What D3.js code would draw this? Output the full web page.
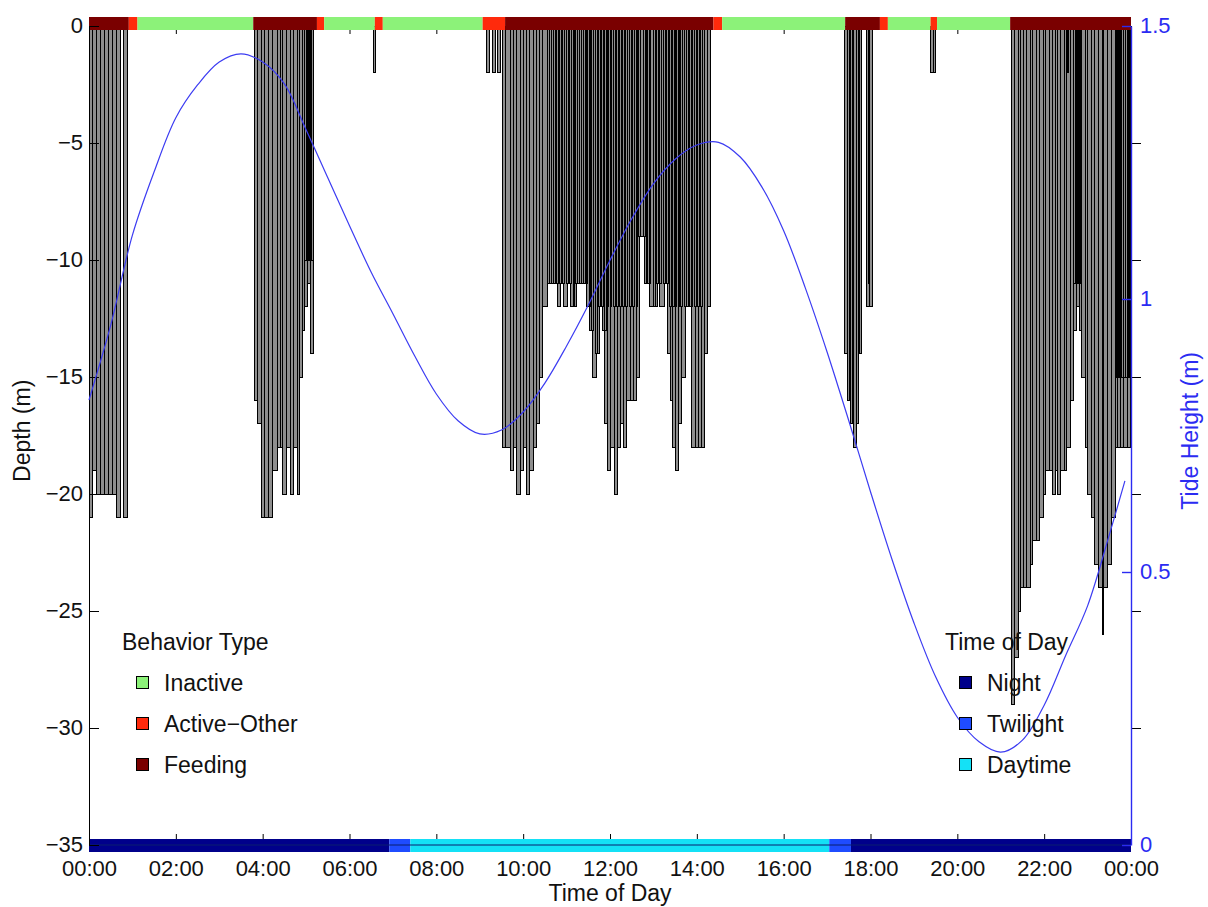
<!DOCTYPE html>
<html>
<head>
<meta charset="utf-8">
<script src="https://cdn.jsdelivr.net/npm/d3@7"></script>
<style>
  html, body { margin: 0; padding: 0; background: #fff; }
  svg { display: block; font-family: "Liberation Sans", Arial, Helvetica, sans-serif; }
</style>
</head>
<body>
<svg id="chart" width="1208" height="907"></svg>
<script>
// ---- Dive records: [start (min after midnight), end (min), maximum depth (m)] ----
const bout1 = [[0,5.5,-21],[5.5,11,-19],[11,16.5,-20],[16.5,22,-20],[22,27.5,-20],[27.5,33,-20],
  [33,38.5,-20],[38.5,43,-21],[48,53.5,-21]];
const bout2 = [[229,233.5,-16],[233.5,239,-17],[239,243,-21],[243,247.5,-21],[247.5,254,-21],
  [254,260,-19],[260,264,-18],[264,268,-18],[268,273.5,-20],[273.5,278,-18],[278,282,-20],
  [282,287.5,-18],[287.5,291.5,-20],[291.5,294.5,-15],[294.5,298.5,-13],[298.5,301.5,-12],
  [301.5,305.5,-11],[305.5,310,-14]];
const bout2Short = [[298,300,-10],[300.5,302.5,-10],[303,305,-10],[305.5,307.5,-10],[308,310,-10]];
const bout3 = [[572,576,-18],[576,582,-18],[582,586,-19],[586,591,-18],[591,596,-20],[596,601,-19],
  [601,605,-18],[605,609,-20],[609,614,-19],[614,618,-18],[618,623,-17],[623,627,-15],[627,633,-12],
  [633,637,-11],[637,643,-11],[643,647,-11],[647,651,-12],[651,656,-11],[656,661,-12],[661,665,-11],
  [665,670,-12],[670,674,-12],[674,679,-11],[679,684,-11],[684,688,-11],[688,692,-12],[692,696,-13],
  [696,701,-15],[701,705,-14],[705,709,-12],[709,713,-13],[713,717,-17],[717,721,-19],[721,726,-18],
  [726,730,-20],[730,734,-18],[734,738,-17],[738,743,-18],[743,748,-16],[748,752,-16],[752,757,-16],
  [757,761,-15],[761,767,-9],[767,771,-11],[771,775,-11],[775,781,-12],[781,785,-12],[785,789,-11],
  [789,795,-12],[795,799,-11],[799,803,-14],[803,807,-16],[807,811,-18],[811,815,-19],[815,819,-17],
  [819,824,-15],[824,829,-12],[829,833,-12],[833,838,-18],[838,842,-18],[842,846,-18],[846,850,-18],
  [850,855,-14],[855,859,-12]];
const bout3Short = [[636,638.5,-11],[641.5,644,-11],[646,648.5,-11],[650,652.5,-11],[655,657.5,-11],
  [660,662.5,-11],[664,666.5,-11],[669,671.5,-12],[673,675.5,-11],[678,680.5,-11],[683,685.5,-11],
  [687,689.5,-11],[691,693.5,-12],[695,697.5,-13],[700,702.5,-14],[704,706.5,-12],[708,710.5,-12],
  [712,714.5,-13],[716,718.5,-12],[720,722.5,-12],[725,727.5,-12],[729,731.5,-12],[733,735.5,-12],
  [737,739.5,-12],[742,744.5,-12],[747,749.5,-12],[751,753.5,-12],[756,758.5,-12],[760,762.5,-9],
  [766,768.5,-9],[770,772.5,-11],[774,776.5,-11],[780,782.5,-12],[784,786.5,-11],[788,790.5,-11],
  [794,796.5,-11],[798,800.5,-11],[802,804.5,-12],[806,808.5,-12],[810,812.5,-12],[814,816.5,-12],
  [818,820.5,-12],[823,825.5,-12],[828,830.5,-12],[832,834.5,-12],[837,839.5,-12],[841,843.5,-12],
  [845,847.5,-12]];
const bout4 = [[1044,1048,-14],[1048,1052,-16],[1052,1056,-17],[1056,1060,-18],[1060,1064,-17],
  [1064,1068,-14],[1075,1079,-12],[1079,1083,-12]];
const bout4Short = [[1051,1053,-16],[1055,1057,-17],[1063,1065,-14],[1077,1079,-11]];
const bout5 = [[1275.5,1279.5,-29],[1279.5,1284,-27],[1284,1287,-25],[1287,1291,-24],[1291,1296,-24],
  [1296,1300.5,-24],[1300.5,1304.5,-23],[1304.5,1309,-22],[1309,1314,-22],[1314,1318.5,-21],
  [1318.5,1322.5,-20],[1322.5,1327,-19],[1327,1331,-19],[1331,1335,-20],[1335,1339,-19],[1339,1343,-20],
  [1343,1347.5,-19],[1347.5,1351.5,-19],[1351.5,1356,-18],[1356,1360,-16],[1360,1365,-13],
  [1365,1369.5,-12],[1369.5,1372,-13],[1372,1376.5,-15],[1376.5,1380.5,-18],[1380.5,1386,-20],
  [1386,1390,-21],[1390,1394.5,-23],[1394.5,1400,-24],[1400,1402.5,-26],[1402.5,1408,-24],
  [1408,1412.5,-23],[1412.5,1418,-21],[1418,1422,-18],[1422,1426,-18],[1426,1430,-18],
  [1430,1434.5,-18],[1434.5,1439,-18]];
const bout5Short = [[1352,1354,-2],[1361,1363,-11],[1364,1366,-11],[1367,1369,-11],[1370,1372,-11],
  [1418,1420,-15],[1421,1423,-15],[1424,1426,-15],[1427,1429,-15],[1430,1432,-15],[1433,1435,-15],
  [1436,1438,-15]];
const surfaceDives = [[393,396,-2],[550,553,-2],[558,561.5,-2],[565,568.5,-2],[1163,1166.5,-2],[1167,1170.5,-2]];

// ---- Behaviour states (minutes) ----
const behaviorStart = [0, 55, 67, 227, 315, 325, 395, 406, 544, 575, 863, 875, 1045, 1093, 1104, 1163, 1172, 1273];
const behaviorEnd   = [55, 67, 227, 315, 325, 395, 406, 544, 575, 863, 875, 1045, 1093, 1104, 1163, 1172, 1273, 1440];
const behaviorState = ["Feeding","Active−Other","Inactive","Feeding","Active−Other","Inactive","Active−Other",
  "Inactive","Active−Other","Feeding","Active−Other","Inactive","Feeding","Active−Other","Inactive",
  "Active−Other","Inactive","Feeding"];
const behaviorNames = ["Inactive", "Active−Other", "Feeding"];
const behaviorColors = ["#8cf279", "#ff2a0c", "#7a0000"];

// ---- Light periods (minutes) ----
const lightStart = [0, 415, 444, 1023, 1053];
const lightEnd   = [415, 444, 1023, 1053, 1440];
const lightState = ["Night", "Twilight", "Daytime", "Twilight", "Night"];
const lightNames = ["Night", "Twilight", "Daytime"];
const lightColors = ["#00008b", "#1f4cff", "#14e1f6"];

// ---- Tide height (hours, metres) ----
const tideHour = [0,0.5,1,1.5,2,2.5,3,3.5,4,4.5,5,5.5,6,6.5,7,7.5,8,8.5,9,9.5,10,10.5,11,11.5,
  12,12.5,13,13.5,14,14.5,15,15.5,16,16.5,17,17.5,18,18.5,19,19.5,20,20.5,21,21.5,22,22.5,23,23.5,23.86];
const tideHeight = [0.815,0.952,1.117,1.233,1.332,1.392,1.434,1.449,1.434,1.394,1.310,1.222,1.134,1.049,
  0.973,0.896,0.826,0.777,0.753,0.760,0.793,0.846,0.914,0.989,1.071,1.147,1.211,1.256,1.282,1.287,
  1.260,1.205,1.125,1.020,0.903,0.777,0.647,0.522,0.407,0.308,0.234,0.189,0.170,0.192,0.256,0.348,
  0.438,0.568,0.667];

// ---- Axis ticks ----
const timeTicks = [0,120,240,360,480,600,720,840,960,1080,1200,1320,1440];
const timeLabels = ["00:00","02:00","04:00","06:00","08:00","10:00","12:00","14:00","16:00","18:00","20:00","22:00","00:00"];
const depthTicks = [0,-5,-10,-15,-20,-25,-30,-35];
const tideTicks = [0, 0.5, 1, 1.5];

// ---- Layout ----
const W = 1208, H = 907;
const margin = { top: 26, right: 77, bottom: 62, left: 89 };
const iw = W - margin.left - margin.right;
const ih = H - margin.top - margin.bottom;

const svg = d3.select("#chart");
const g = svg.append("g").attr("transform", `translate(${margin.left},${margin.top})`);

const x = d3.scaleLinear().domain([0, 1440]).range([0, iw]);
const yDepth = d3.scaleLinear().domain([-35, 0]).range([ih, 0]);
const yTide = d3.scaleLinear().domain([0, 1.5]).range([ih, 0]);
const behaviorColor = d3.scaleOrdinal().domain(behaviorNames).range(behaviorColors);
const lightColor = d3.scaleOrdinal().domain(lightNames).range(lightColors);

const FONT = 23;
const TICK_FONT = 22;
const FAMILY = "Liberation Sans, Arial, sans-serif";
const tideBlue = "#2b2bf2";

// inward ticks along the top and bottom (behind the dives and strips)
g.append("g")
  .call(d3.axisTop(x).tickValues(timeTicks).tickSize(-8).tickSizeOuter(0).tickFormat(""))
  .call(s => s.select(".domain").remove());
g.append("g")
  .attr("transform", `translate(0,${ih})`)
  .call(d3.axisBottom(x).tickValues(timeTicks).tickSize(-11).tickSizeOuter(0).tickFormat(""))
  .call(s => s.select(".domain").remove());

// dive bars
const dives = [].concat(bout1, bout2, bout3, bout4, bout5, surfaceDives,
                        bout2Short, bout3Short, bout4Short, bout5Short);
g.append("g")
  .attr("shape-rendering", "crispEdges")
  .selectAll("rect")
  .data(dives)
  .join("rect")
  .attr("x", d => x(d[0]))
  .attr("width", d => x(d[1]) - x(d[0]))
  .attr("y", yDepth(0))
  .attr("height", d => yDepth(d[2]) - yDepth(0))
  .attr("fill", "#8e8e8e")
  .attr("stroke", "#000")
  .attr("stroke-width", 1);

// behaviour strip along the surface
g.append("g").selectAll("rect")
  .data(behaviorStart.map((s, i) => ({ s, e: behaviorEnd[i], k: behaviorState[i] })))
  .join("rect")
  .attr("x", d => x(d.s))
  .attr("width", d => x(d.e) - x(d.s))
  .attr("y", yDepth(0) - 9)
  .attr("height", 13)
  .attr("fill", d => behaviorColor(d.k));

// light strip along the bottom
g.append("g").selectAll("rect")
  .data(lightStart.map((s, i) => ({ s, e: lightEnd[i], k: lightState[i] })))
  .join("rect")
  .attr("x", d => x(d.s))
  .attr("width", d => x(d.e) - x(d.s))
  .attr("y", yDepth(-35) - 6)
  .attr("height", 13)
  .attr("fill", d => lightColor(d.k));
g.append("line")
  .attr("x1", 0).attr("x2", iw)
  .attr("y1", yDepth(-35)).attr("y2", yDepth(-35))
  .attr("stroke", "#0a1f6e").attr("stroke-width", 1);

// left depth axis
const leftAxis = g.append("g")
  .call(d3.axisLeft(yDepth).tickValues(depthTicks).tickSize(-10).tickSizeOuter(0).tickPadding(6));
leftAxis.selectAll("text").attr("font-size", TICK_FONT).attr("fill", "#111").attr("font-family", FAMILY)
  .attr("dy", "0.3em");
leftAxis.selectAll("line, path").attr("stroke", "#000");

// inward depth ticks on the right edge
g.append("g")
  .attr("transform", `translate(${iw},0)`)
  .call(d3.axisLeft(yDepth).tickValues(depthTicks.slice(1, -1)).tickSize(10).tickSizeOuter(0).tickFormat(""))
  .call(s => s.select(".domain").remove())
  .selectAll("line").attr("transform", "translate(10,0)").attr("stroke", "#000");

// time labels
const bottomAxis = g.append("g")
  .attr("transform", `translate(0,${ih})`)
  .call(d3.axisBottom(x).tickValues(timeTicks).tickSize(0).tickPadding(15)
        .tickFormat((d, i) => timeLabels[i]));
bottomAxis.select(".domain").remove();
bottomAxis.selectAll("text").attr("font-size", TICK_FONT).attr("fill", "#111").attr("font-family", FAMILY);

// tide curve
const tideLine = d3.line()
  .x((d, i) => x(tideHour[i] * 60))
  .y(d => yTide(d))
  .curve(d3.curveCatmullRom.alpha(0.5));
g.append("path")
  .datum(tideHeight)
  .attr("d", tideLine)
  .attr("fill", "none")
  .attr("stroke", "#3c3cf2")
  .attr("stroke-width", 1.2);

// right tide axis
const rightAxis = g.append("g")
  .attr("transform", `translate(${iw},0)`)
  .call(d3.axisRight(yTide).tickValues(tideTicks).tickSize(-9).tickSizeOuter(0).tickPadding(9)
        .tickFormat(d3.format("~g")));
rightAxis.selectAll("line, path").attr("stroke", tideBlue).attr("stroke-width", 1.4);
rightAxis.selectAll("text").attr("font-size", TICK_FONT).attr("fill", tideBlue).attr("font-family", FAMILY)
  .attr("dy", "0.3em");

// axis titles
svg.append("text")
  .attr("transform", `translate(30,${margin.top + yDepth(-17.3)}) rotate(-90)`)
  .attr("text-anchor", "middle")
  .attr("font-size", FONT).attr("fill", "#111")
  .text("Depth (m)");
svg.append("text")
  .attr("transform", `translate(1198,${margin.top + yDepth(-17.3)}) rotate(-90)`)
  .attr("text-anchor", "middle")
  .attr("font-size", FONT).attr("fill", tideBlue)
  .text("Tide Height (m)");
svg.append("text")
  .attr("x", margin.left + iw / 2).attr("y", 901)
  .attr("text-anchor", "middle")
  .attr("font-size", FONT).attr("fill", "#111")
  .text("Time of Day");

// legends
function legend(x0, title, names, colors) {
  const lg = svg.append("g");
  lg.append("text").attr("x", x0).attr("y", 650)
    .attr("font-size", FONT).attr("fill", "#111").text(title);
  const rows = lg.selectAll("g.row").data(names).join("g").attr("class", "row")
    .attr("transform", (d, i) => `translate(${x0},${683 + i * 41})`);
  rows.append("rect").attr("x", 14.5).attr("y", -6.5).attr("width", 12).attr("height", 12)
    .attr("fill", (d, i) => colors[i]).attr("stroke", "#000").attr("stroke-width", 1);
  rows.append("text").attr("x", 42).attr("y", 8)
    .attr("font-size", FONT).attr("fill", "#111").text(d => d);
}
legend(122, "Behavior Type", behaviorNames, behaviorColors);
legend(945, "Time of Day", lightNames, lightColors);
</script>
</body>
</html>
